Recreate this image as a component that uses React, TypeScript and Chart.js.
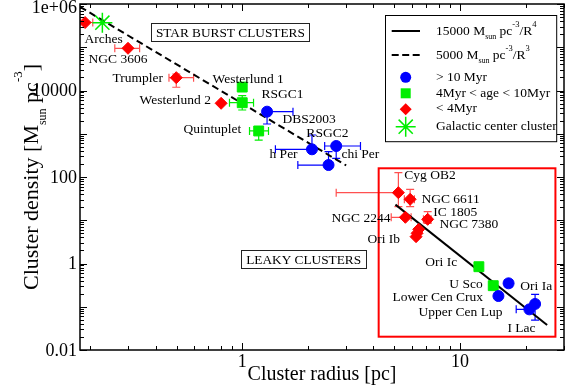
import React, { useEffect, useRef } from 'react';
import { Chart, registerables } from 'chart.js';

Chart.register(...registerables);

const SERIF = '"Liberation Serif", "Times New Roman", Times, serif';

const X_MIN = 0.18;
const X_MAX = 30;
const Y_MIN = 0.01;
const Y_MAX = 1e6;
const xTickValues = [1, 10];
const xTickLabels = ['1', '10'];
const yTickValues = [0.01, 1, 100, 10000, 1e6];
const yTickLabels = ['0.01', '1', '100', '10000', '1e+06'];

// > 10 Myr (blue circles)
const oldR = [1.3, 2.09, 2.7, 2.49, 16.7, 15.0, 20.8, 22.1];
const oldRho = [3240, 437, 521, 189, 0.348, 0.177, 0.087, 0.116];
const oldRLo = [1.3, 1.42, 2.39, 1.8, 16.0, 15.0, 18.1, 22.1];
const oldRHi = [1.71, 2.09, 3.49, 2.49, 17.4, 15.0, 20.8, 22.1];
const oldRhoLo = [1680, 437, 270, 189, 0.348, 0.177, 0.087, 0.049];
const oldRhoHi = [3240, 935, 521, 385, 0.348, 0.177, 0.087, 0.194];

// 4 Myr < age < 10 Myr (green squares)
const midR = [1.0, 1.0, 1.19, 12.2, 14.2];
const midRho = [12000, 5220, 1160, 0.843, 0.307];
const midRLo = [1.0, 0.874, 1.08, 12.2, 14.2];
const midRHi = [1.0, 1.127, 1.32, 12.2, 14.2];
const midRhoLo = [12000, 3540, 716, 0.843, 0.307];
const midRhoHi = [12000, 7590, 1456, 0.843, 0.307];

// < 4 Myr (red diamonds)
const youngR = [0.19, 0.299, 0.498, 0.8, 5.21, 5.9, 5.61, 7.1, 6.46, 6.35, 6.28];
const youngRho = [3.73e5, 9.46e4, 1.98e4, 5060, 43.4, 30.5, 11.7, 10.5, 6.18, 5.0, 4.17];
const youngRLo = [0.181, 0.26, 0.461, 0.8, 2.7, 5.55, 4.83, 6.79, 6.46, 6.35, 6.28];
const youngRHi = [0.206, 0.338, 0.598, 0.8, 5.21, 6.17, 5.96, 7.36, 6.46, 6.35, 6.28];
const youngRhoLo = [3.73e5, 9.46e4, 1.19e4, 5060, 20.6, 20.6, 11.7, 8.5, 6.18, 5.0, 4.17];
const youngRhoHi = [3.73e5, 9.46e4, 2.41e4, 5060, 126, 52, 11.7, 15.8, 6.18, 5.0, 4.17];

// Galactic center cluster (green asterisk)
const gcR = [0.228];
const gcRho = [3.7e5];

// Fit lines
const solidR = [5.05, 25.1];
const solidRho = [23, 0.038];
const dashR = [0.18, 3.0];
const dashRho = [8.6e5, 185];

// Cluster name labels: [text, R at left edge, rho at baseline]
const clusterLabels: [string, number, number][] = [
  ['Arches', 0.189, 1.25e5],
  ['NGC 3606', 0.197, 4.32e4],
  ['Trumpler', 0.254, 1.57e4],
  ['Westerlund 1', 0.731, 1.49e4],
  ['Westerlund 2', 0.338, 4880],
  ['RSGC1', 1.226, 6710],
  ['Quintuplet', 0.538, 1040],
  ['DBS2003', 1.53, 1775],
  ['RSGC2', 1.97, 841],
  ['h Per', 1.334, 275],
  ['chi Per', 2.855, 275],
  ['Cyg OB2', 5.55, 90],
  ['NGC 6611', 6.645, 25.1],
  ['IC 1805', 7.54, 12.5],
  ['NGC 7380', 8.04, 6.62],
  ['NGC 2244', 2.57, 9.11],
  ['Ori Ib', 3.757, 2.98],
  ['Ori Ic', 6.93, 0.875],
  ['U Sco', 8.93, 0.2714],
  ['Ori Ia', 18.9, 0.244],
  ['Lower Cen Crux', 4.89, 0.136],
  ['Upper Cen Lup', 6.44, 0.0611],
  ['I Lac', 16.5, 0.0261],
];

// Region boxes: [text, R0, R1, rho0, rho1]
const regionBoxes: [string, number, number, number, number][] = [
  ['STAR BURST CLUSTERS', 0.382, 2.036, 3.58e5, 1.395e5],
  ['LEAKY CLUSTERS', 0.989, 3.706, 2.05, 0.774],
];
const redBox = [4.23, 27.4, 159, 0.0203];

const BLUE = '#0000ff';
const GREEN = '#00ee00';
const RED = '#ff0000';
const RED_ERR = '#ff5050';

type Part = [string, number, number];

function richWidth(ctx: CanvasRenderingContext2D, parts: Part[]) {
  let w = 0;
  for (const [t, s] of parts) {
    ctx.font = `${s}px ${SERIF}`;
    w += ctx.measureText(t).width;
  }
  return w;
}
function richText(ctx: CanvasRenderingContext2D, x: number, y: number, parts: Part[]) {
  let cx = x;
  for (const [t, s, dy] of parts) {
    ctx.font = `${s}px ${SERIF}`;
    ctx.fillText(t, cx, y + dy);
    cx += ctx.measureText(t).width;
  }
}

function logTicks(min: number, max: number) {
  const out: [number, boolean][] = [];
  for (let d = Math.floor(Math.log10(min)); d <= Math.ceil(Math.log10(max)); d++) {
    for (let m = 1; m <= 9; m++) {
      const v = m * Math.pow(10, d);
      if (v >= min * 0.9999 && v <= max * 1.0001) out.push([v, m === 1]);
    }
  }
  return out;
}

const mk = (xs: number[], ys: number[]) => xs.map((v, i) => ({ x: v, y: ys[i] }));

function drawMarker(ctx: CanvasRenderingContext2D, kind: string, x: number, y: number) {
  ctx.save();
  if (kind === 'circle') {
    ctx.fillStyle = BLUE;
    ctx.beginPath();
    ctx.arc(x, y, 5.5, 0, Math.PI * 2);
    ctx.fill();
  } else if (kind === 'rect') {
    ctx.fillStyle = GREEN;
    ctx.fillRect(x - 5, y - 5, 10, 10);
  } else if (kind === 'diamond') {
    ctx.fillStyle = RED;
    ctx.beginPath();
    ctx.moveTo(x - 6, y);
    ctx.lineTo(x, y - 6);
    ctx.lineTo(x + 6, y);
    ctx.lineTo(x, y + 6);
    ctx.closePath();
    ctx.fill();
  } else if (kind === 'star') {
    ctx.strokeStyle = GREEN;
    ctx.lineWidth = 1.5;
    ctx.beginPath();
    for (let k = 0; k < 4; k++) {
      const a = (k * Math.PI) / 4;
      ctx.moveTo(x - 10 * Math.cos(a), y - 10 * Math.sin(a));
      ctx.lineTo(x + 10 * Math.cos(a), y + 10 * Math.sin(a));
    }
    ctx.stroke();
  }
  ctx.restore();
}

const overlayPlugin = {
  id: 'overlay',
  beforeDatasetsDraw(chart: any) {
    const { ctx, chartArea: a, scales } = chart;
    const xs = scales.x;
    const ys = scales.y;
    ctx.save();
    ctx.beginPath();
    ctx.rect(a.left, a.top, a.right - a.left, a.bottom - a.top);
    ctx.clip();
    const cap = 4;
    chart.data.datasets.forEach((ds: any) => {
      if (!ds.err) return;
      ctx.strokeStyle = ds.errColor;
      ctx.lineWidth = 1.2;
      ds.data.forEach((p: any, i: number) => {
        const px = xs.getPixelForValue(p.x);
        const py = ys.getPixelForValue(p.y);
        const xl = xs.getPixelForValue(ds.err.xLo[i]);
        const xh = xs.getPixelForValue(ds.err.xHi[i]);
        const yl = ys.getPixelForValue(ds.err.yLo[i]);
        const yh = ys.getPixelForValue(ds.err.yHi[i]);
        ctx.beginPath();
        if (px - xl > 0.5) {
          ctx.moveTo(xl, py); ctx.lineTo(px, py);
          ctx.moveTo(xl, py - cap); ctx.lineTo(xl, py + cap);
        }
        if (xh - px > 0.5) {
          ctx.moveTo(px, py); ctx.lineTo(xh, py);
          ctx.moveTo(xh, py - cap); ctx.lineTo(xh, py + cap);
        }
        if (yl - py > 0.5) {
          ctx.moveTo(px, py); ctx.lineTo(px, yl);
          ctx.moveTo(px - cap, yl); ctx.lineTo(px + cap, yl);
        }
        if (py - yh > 0.5) {
          ctx.moveTo(px, py); ctx.lineTo(px, yh);
          ctx.moveTo(px - cap, yh); ctx.lineTo(px + cap, yh);
        }
        ctx.stroke();
      });
    });
    ctx.restore();
  },
  afterDraw(chart: any) {
    const { ctx, chartArea: a, scales } = chart;
    const xs = scales.x;
    const ys = scales.y;
    ctx.save();

    // red region box
    ctx.strokeStyle = RED;
    ctx.lineWidth = 2;
    {
      const x0 = xs.getPixelForValue(redBox[0]);
      const x1 = xs.getPixelForValue(redBox[1]);
      const y0 = ys.getPixelForValue(redBox[2]);
      const y1 = ys.getPixelForValue(redBox[3]);
      ctx.strokeRect(x0, y0, x1 - x0, y1 - y0);
    }

    // text region boxes
    ctx.strokeStyle = '#222';
    ctx.lineWidth = 1;
    ctx.textBaseline = 'middle';
    ctx.textAlign = 'center';
    regionBoxes.forEach(([t, r0, r1, d0, d1]) => {
      const x0 = xs.getPixelForValue(r0);
      const x1 = xs.getPixelForValue(r1);
      const y0 = ys.getPixelForValue(d0);
      const y1 = ys.getPixelForValue(d1);
      ctx.fillStyle = '#fff';
      ctx.fillRect(x0, y0, x1 - x0, y1 - y0);
      ctx.strokeRect(Math.round(x0) + 0.5, Math.round(y0) + 0.5, Math.round(x1 - x0), Math.round(y1 - y0));
      ctx.fillStyle = '#000';
      ctx.font = `13.3px ${SERIF}`;
      ctx.fillText(t, (x0 + x1) / 2, (y0 + y1) / 2 + 1);
    });

    // cluster labels
    ctx.textAlign = 'left';
    ctx.textBaseline = 'alphabetic';
    ctx.font = `13.5px ${SERIF}`;
    clusterLabels.forEach(([t, r, d]) => {
      ctx.fillText(t, xs.getPixelForValue(r), ys.getPixelForValue(d));
    });

    // frame
    ctx.strokeStyle = '#000';
    ctx.lineWidth = 1.5;
    ctx.strokeRect(a.left, a.top, a.right - a.left, a.bottom - a.top);

    // inward tick marks on all four sides
    ctx.lineWidth = 1;
    ctx.beginPath();
    logTicks(X_MIN, X_MAX).forEach(([v, major]) => {
      const px = Math.round(xs.getPixelForValue(v)) + 0.5;
      const len = major ? 7 : 4;
      ctx.moveTo(px, a.bottom); ctx.lineTo(px, a.bottom - len);
      ctx.moveTo(px, a.top); ctx.lineTo(px, a.top + len);
    });
    logTicks(Y_MIN, Y_MAX).forEach(([v, major]) => {
      const py = Math.round(ys.getPixelForValue(v)) + 0.5;
      const len = major ? 7 : 4;
      ctx.moveTo(a.left, py); ctx.lineTo(a.left + len, py);
      ctx.moveTo(a.right, py); ctx.lineTo(a.right - len, py);
    });
    ctx.stroke();

    // tick labels
    ctx.fillStyle = '#000';
    ctx.font = `18px ${SERIF}`;
    ctx.textAlign = 'center';
    ctx.textBaseline = 'alphabetic';
    xTickValues.forEach((v, i) => {
      ctx.fillText(xTickLabels[i], xs.getPixelForValue(v), a.bottom + 17);
    });
    ctx.textAlign = 'right';
    ctx.textBaseline = 'middle';
    yTickValues.forEach((v, i) => {
      const py = Math.max(ys.getPixelForValue(v) + 1, 8);
      ctx.fillText(yTickLabels[i], a.left - 3, py);
    });

    // legend
    const R = a.right;
    const T = a.top;
    ctx.textBaseline = 'alphabetic';
    ctx.textAlign = 'left';
    ctx.fillStyle = '#fff';
    ctx.fillRect(R - 179, T + 11, 171.7, 126.7);
    ctx.strokeStyle = '#000';
    ctx.lineWidth = 1;
    ctx.strokeRect(R - 178.5, T + 11.5, 171.2, 126.2);
    const sx = R - 158.3;
    ctx.lineWidth = 2;
    ctx.beginPath();
    ctx.moveTo(R - 172.3, T + 27); ctx.lineTo(R - 144, T + 27);
    ctx.stroke();
    ctx.setLineDash([7, 3.5]);
    ctx.beginPath();
    ctx.moveTo(R - 172.3, T + 51); ctx.lineTo(R - 144, T + 51);
    ctx.stroke();
    ctx.setLineDash([]);
    drawMarker(ctx, 'circle', sx, T + 73.3);
    drawMarker(ctx, 'rect', sx, T + 89.3);
    drawMarker(ctx, 'diamond', sx, T + 105.3);
    drawMarker(ctx, 'star', sx, T + 122.7);
    ctx.fillStyle = '#000';
    const tx = R - 128;
    richText(ctx, tx, T + 31, [['15000 M', 13.5, 0], ['sun', 8, 4], [' pc', 13.5, 0], ['-3', 8.5, -8], ['/R', 13.5, 0], ['4', 8.5, -8]]);
    richText(ctx, tx, T + 54.5, [['5000 M', 13.5, 0], ['sun', 8, 4], [' pc', 13.5, 0], ['-3', 8.5, -8], ['/R', 13.5, 0], ['3', 8.5, -8]]);
    richText(ctx, tx, T + 77, [['> 10 Myr', 13.5, 0]]);
    richText(ctx, tx, T + 92.5, [['4Myr < age < 10Myr', 13.5, 0]]);
    richText(ctx, tx, T + 108, [['< 4Myr', 13.5, 0]]);
    richText(ctx, tx, T + 126, [['Galactic center cluster', 13.5, 0]]);

    // axis titles
    ctx.textAlign = 'center';
    ctx.font = `20px ${SERIF}`;
    ctx.fillText('Cluster radius [pc]', (a.left + a.right) / 2, 380);

    const yParts: Part[] = [['Cluster density [M', 22, 0], ['sun', 12, 8], [' pc', 22, 0], ['-3', 13, -16], [']', 22, 0]];
    ctx.textAlign = 'left';
    const w = richWidth(ctx, yParts);
    ctx.translate(38, (a.top + a.bottom) / 2);
    ctx.rotate(-Math.PI / 2);
    richText(ctx, -w / 2, 0, yParts);
    ctx.restore();
  },
};

export default function App() {
  const ref = useRef<HTMLCanvasElement | null>(null);
  useEffect(() => {
    document.body.style.margin = '0';
    const canvas = ref.current;
    if (!canvas) return;
    const chart = new Chart(canvas, {
      type: 'scatter',
      data: {
        datasets: [
          {
            label: '> 10 Myr',
            data: mk(oldR, oldRho),
            pointStyle: 'circle',
            pointRadius: 5.5,
            backgroundColor: BLUE,
            borderColor: BLUE,
            borderWidth: 1,
            err: { xLo: oldRLo, xHi: oldRHi, yLo: oldRhoLo, yHi: oldRhoHi },
            errColor: BLUE,
          } as any,
          {
            label: '4Myr < age < 10Myr',
            data: mk(midR, midRho),
            pointStyle: 'rect',
            pointRadius: 7,
            backgroundColor: GREEN,
            borderColor: GREEN,
            borderWidth: 1,
            err: { xLo: midRLo, xHi: midRHi, yLo: midRhoLo, yHi: midRhoHi },
            errColor: GREEN,
          } as any,
          {
            label: '< 4Myr',
            data: mk(youngR, youngRho),
            pointStyle: 'rectRot',
            pointRadius: 6,
            backgroundColor: RED,
            borderColor: RED,
            borderWidth: 1,
            err: { xLo: youngRLo, xHi: youngRHi, yLo: youngRhoLo, yHi: youngRhoHi },
            errColor: RED_ERR,
          } as any,
          {
            label: 'Galactic center cluster',
            data: mk(gcR, gcRho),
            pointStyle: 'star',
            pointRadius: 10,
            backgroundColor: GREEN,
            borderColor: GREEN,
            borderWidth: 1.5,
          },
          {
            label: '15000/R^4',
            data: mk(solidR, solidRho),
            showLine: true,
            pointRadius: 0,
            borderColor: '#000',
            borderWidth: 2,
          },
          {
            label: '5000/R^3',
            data: mk(dashR, dashRho),
            showLine: true,
            pointRadius: 0,
            borderColor: '#000',
            borderWidth: 2,
            borderDash: [7, 4],
          },
        ],
      },
      options: {
        responsive: false,
        devicePixelRatio: 1,
        animation: false,
        events: [],
        layout: { autoPadding: false, padding: { top: 4, right: 2, left: 80, bottom: 36 } },
        plugins: { legend: { display: false }, tooltip: { enabled: false }, title: { display: false } },
        scales: {
          x: {
            type: 'logarithmic',
            display: false,
            min: X_MIN,
            max: X_MAX,
          },
          y: {
            type: 'logarithmic',
            display: false,
            min: Y_MIN,
            max: Y_MAX,
          },
        },
      } as any,
      plugins: [overlayPlugin],
    });
    return () => chart.destroy();
  }, []);
  return (
    <div style={{ width: 566, height: 386, background: '#fff' }}>
      <canvas ref={ref} width={566} height={386} style={{ display: 'block' }} />
    </div>
  );
}
